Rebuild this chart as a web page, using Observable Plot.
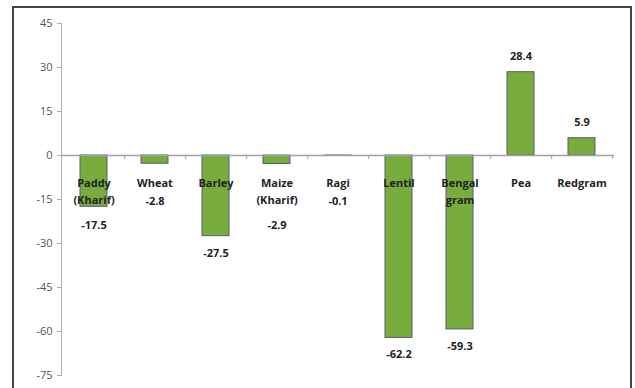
<!DOCTYPE html>
<html>
<head>
<meta charset="utf-8">
<script src="https://cdn.jsdelivr.net/npm/d3@7"></script>
<script src="https://cdn.jsdelivr.net/npm/@observablehq/plot@0.6"></script>
<style>
  html, body { margin: 0; padding: 0; background: #fff; }
  #wrap { position: relative; width: 635px; height: 388px; overflow: hidden; }
  #border { position: absolute; left: 12px; top: 6px; width: 616px; height: 400px;
            border: 2px solid #444; pointer-events: none; }
</style>
</head>
<body>
<div id="wrap"><div id="chart"></div><div id="border"></div></div>
<script>
const categories = ["Paddy\n(Kharif)", "Wheat", "Barley", "Maize\n(Kharif)", "Ragi", "Lentil", "Bengal\ngram", "Pea", "Redgram"];
const values = [-17.5, -2.8, -27.5, -2.9, -0.1, -62.2, -59.3, 28.4, 5.9];
const valueLabels = ["-17.5", "-2.8", "-27.5", "-2.9", "-0.1", "-62.2", "-59.3", "28.4", "5.9"];
const yTicks = [45, 30, 15, 0, -15, -30, -45, -60, -75];

const data = categories.map((c, i) => ({
  cat: c, v: values[i], label: valueLabels[i],
  lines: c.split("\n").length
}));
// negative labels sit below the bar end, or below the category label for short bars
const negLabels = data.filter(d => d.v < 0).map(d => ({ ...d, ly: Math.min(d.v, d.lines > 1 ? -18 : -10) }));
const posLabels = data.filter(d => d.v >= 0);

const fontFamily = "'Open Sans', 'Liberation Sans', sans-serif";

const chart = Plot.plot({
  width: 635,
  height: 388,
  marginLeft: 61,
  marginRight: 21,
  marginTop: 23,
  marginBottom: 13,
  style: { fontFamily, background: "transparent" },
  x: { domain: categories, paddingInner: 0.56, paddingOuter: 0.28, axis: null },
  y: { domain: [-75, 45], axis: null },
  marks: [
    Plot.frame({ anchor: "left", stroke: "#b0b0b0" }),
    Plot.axisY(yTicks, { tickSize: 4, stroke: "#b0b0b0", fill: "#555", fontSize: 11, tickPadding: 5,
      tickFormat: d => String(d) }),
    Plot.barY(data, { x: "cat", y: "v", fill: "#78ac3c", stroke: "#556070", strokeWidth: 1 }),
    Plot.ruleY([0], { stroke: "#a0a0a8", strokeWidth: 1.5 }),
    Plot.ruleX(categories, { x: d => d, dx: 30.7, y1: 0, y2: -1.4, stroke: "#a0a0a8" }),
    Plot.text(data, { x: "cat", y: 0, text: "cat", dy: 20, lineAnchor: "top", lineHeight: 1.5,
      fontSize: 11, fontWeight: "bold", fill: "#222" }),
    Plot.text(negLabels, { x: "cat", y: "ly", dy: 17, text: "label", fontSize: 11,
      fontWeight: "bold", fill: "#222" }),
    Plot.text(posLabels, { x: "cat", y: "v", dy: -16, text: "label", fontSize: 11,
      fontWeight: "bold", fill: "#222" })
  ]
});
document.getElementById("chart").append(chart);
</script>
</body>
</html>
